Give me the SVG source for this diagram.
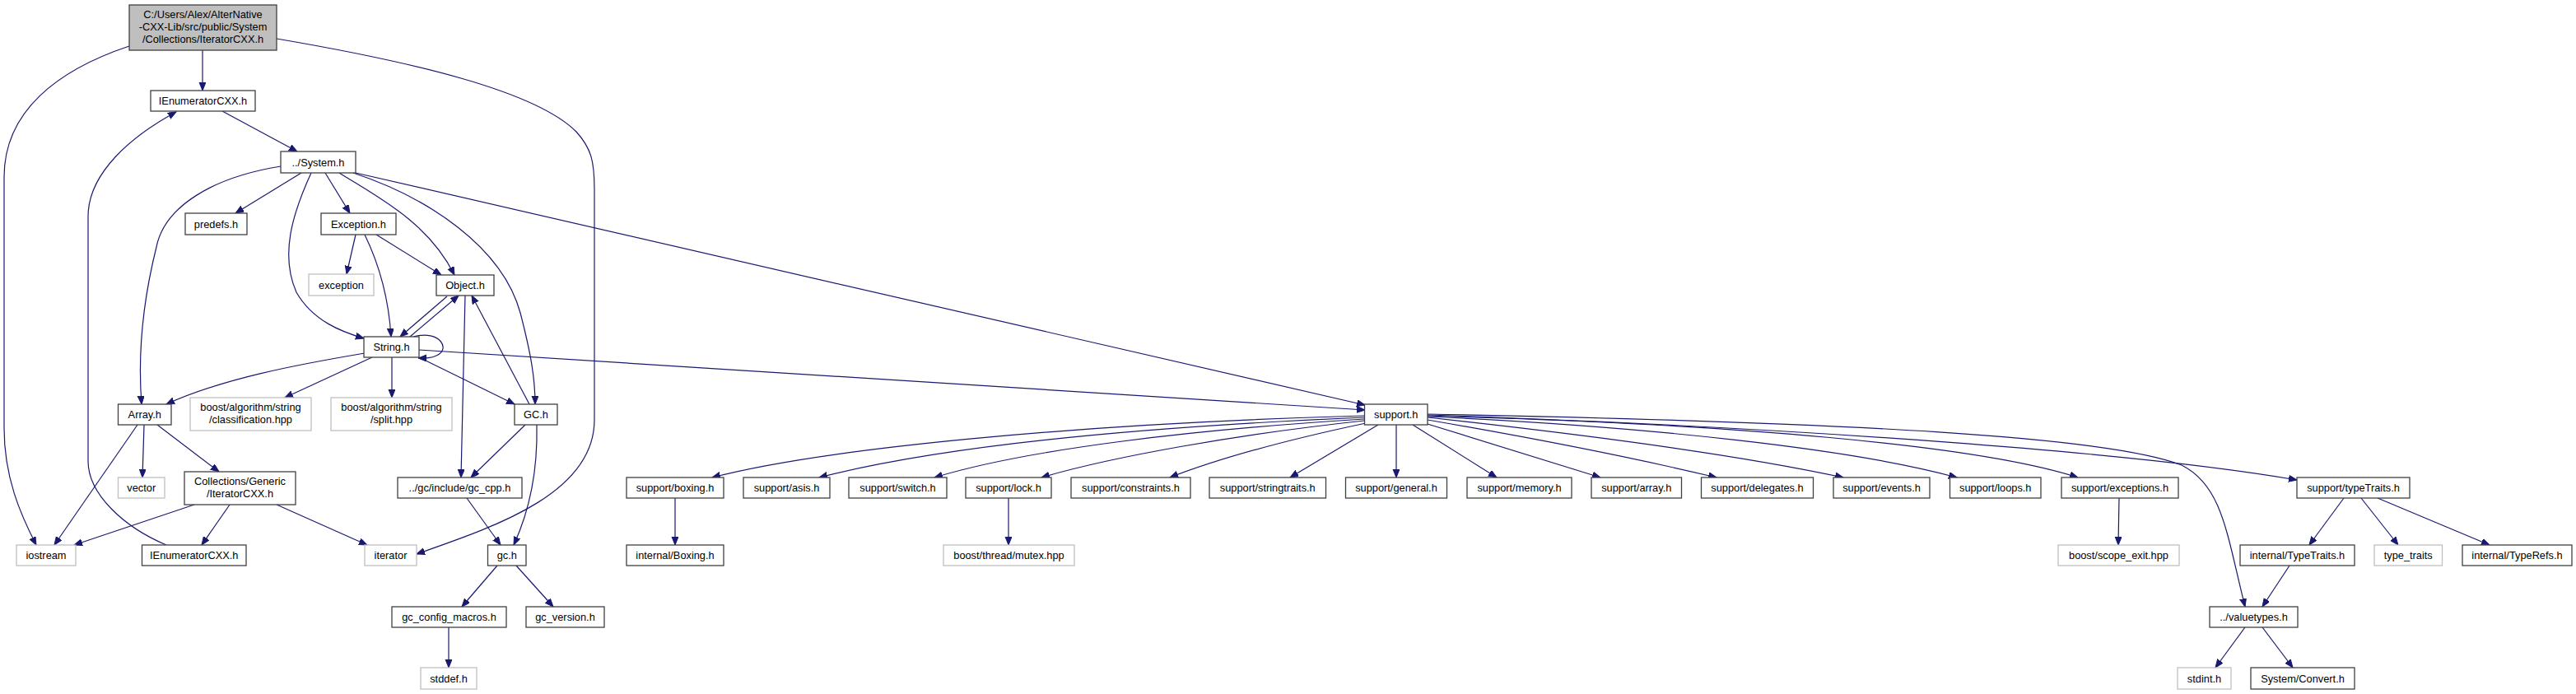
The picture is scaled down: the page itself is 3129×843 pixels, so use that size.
<svg xmlns="http://www.w3.org/2000/svg" width="3129" height="843" viewBox="0 0 3129 843">
<defs>
<style>
.n rect{fill:#ffffff;stroke:#404040;stroke-width:1.3}
.g rect{fill:#ffffff;stroke:#bfbfbf;stroke-width:1.3}
.r rect{fill:#bfbfbf;stroke:#404040;stroke-width:1.3}
text{font-family:"Liberation Sans",Arial,sans-serif;font-size:12.8px;fill:#000000;text-anchor:middle}
#edges path{fill:none;stroke:#191970;stroke-width:1.2;marker-end:url(#a)}
</style>
<marker id="a" markerUnits="userSpaceOnUse" markerWidth="11" markerHeight="9" refX="10" refY="4" orient="auto">
<path d="M0,0 L10,4 L0,8 z" fill="#191970" stroke="#191970" stroke-width="1"/>
</marker>
</defs>
<rect width="3129" height="843" fill="#ffffff"/>
<g id="edges">
<path d="M246,61 L246,110"/>
<path d="M157,56 C70,85 5,135 5,215 L5,520 C5,580 25,625 44,662"/>
<path d="M336,47 C500,75 650,110 700,160 C718,180 722,195 722,230 L722,510 C722,600 600,640 506,673"/>
<path d="M270,135 L361,184"/>
<path d="M366,210 L286,259"/>
<path d="M395,210 L425,259"/>
<path d="M341,202 C260,215 200,250 190,300 C170,380 168,440 172,491"/>
<path d="M378,210 C355,260 340,310 360,355 C380,390 415,403 442,411"/>
<path d="M412,210 C460,240 520,270 552,334"/>
<path d="M429,210 C520,240 610,300 632,380 C645,430 650,460 650,491"/>
<path d="M432,210 L1658,492"/>
<path d="M432,285 L421,333"/>
<path d="M443,285 C460,320 472,360 475,409"/>
<path d="M457,285 L536,334"/>
<path d="M543,360 L486,409"/>
<path d="M498,409 L557,359"/>
<path d="M502,409 C535,400 548,425 530,432 C524,435 518,435 508,435"/>
<path d="M511,435 L625,491"/>
<path d="M443,429 C360,443 270,460 202,491"/>
<path d="M452,434 L346,483"/>
<path d="M476,434 L476,483"/>
<path d="M509,425 L1658,498"/>
<path d="M565,359 L560,580"/>
<path d="M643,491 L573,359"/>
<path d="M638,516 L572,580"/>
<path d="M652,516 C653,560 648,610 624,662"/>
<path d="M167,516 L66,662"/>
<path d="M175,516 L173,580"/>
<path d="M191,516 L266,573"/>
<path d="M236,613 L90,662"/>
<path d="M279,613 L245,662"/>
<path d="M336,613 L446,662"/>
<path d="M202,662 C150,640 107,600 107,560 L107,263 C107,210 160,165 214,136"/>
<path d="M567,605 L608,662"/>
<path d="M604,687 L561,737"/>
<path d="M627,687 L672,737"/>
<path d="M545,762 L545,811"/>
<path d="M820,605 L820,662"/>
<path d="M1657,505 C1300,515 1000,545 865,580"/>
<path d="M1657,507 C1400,518 1150,540 995,580"/>
<path d="M1657,509 C1450,522 1250,545 1135,580"/>
<path d="M1657,511 C1500,528 1350,555 1265,580"/>
<path d="M1659,514 C1560,535 1480,557 1421,580"/>
<path d="M1674,516 L1567,580"/>
<path d="M1696,516 L1696,580"/>
<path d="M1716,516 L1818,580"/>
<path d="M1734,515 L1944,580"/>
<path d="M1734,510 C1850,530 1980,555 2085,580"/>
<path d="M1734,507 C1900,525 2100,550 2239,580"/>
<path d="M1734,506 C2000,518 2250,545 2377,580"/>
<path d="M1734,505 C2100,515 2400,540 2524,580"/>
<path d="M1734,504 C2200,520 2600,550 2790,583"/>
<path d="M1734,503 C2250,513 2560,530 2650,565 C2700,590 2705,650 2727,737"/>
<path d="M1225,605 L1225,662"/>
<path d="M2574,605 L2573,662"/>
<path d="M2847,605 L2805,662"/>
<path d="M2868,605 L2913,662"/>
<path d="M2888,605 L3024,662"/>
<path d="M2781,687 L2748,737"/>
<path d="M2727,762 L2691,811"/>
<path d="M2748,762 L2785,811"/>
</g>
<g id="root" class="r"><rect x="157" y="6" width="179" height="55"/><text x="246.5" y="21.5">C:/Users/Alex/AlterNative</text><text x="246.5" y="36.5">-CXX-Lib/src/public/System</text><text x="246.5" y="51.5">/Collections/IteratorCXX.h</text></g>
<g id="ienum_top" class="n"><rect x="183" y="110" width="127" height="25"/><text x="246.5" y="127">IEnumeratorCXX.h</text></g>
<g id="system" class="n"><rect x="341" y="184" width="91" height="26"/><text x="386.5" y="201.5">../System.h</text></g>
<g id="predefs" class="n"><rect x="225" y="259" width="75" height="26"/><text x="262.5" y="276.5">predefs.h</text></g>
<g id="exception_h" class="n"><rect x="390" y="259" width="91" height="26"/><text x="435.5" y="276.5">Exception.h</text></g>
<g id="exception" class="g"><rect x="375" y="333" width="79" height="26"/><text x="414.5" y="350.5">exception</text></g>
<g id="object" class="n"><rect x="530" y="334" width="70" height="25"/><text x="565" y="351">Object.h</text></g>
<g id="string" class="n"><rect x="442" y="409" width="67" height="25"/><text x="475.5" y="426">String.h</text></g>
<g id="array" class="n"><rect x="143.5" y="491" width="64.5" height="25"/><text x="175.75" y="508">Array.h</text></g>
<g id="boost_class" class="g"><rect x="231" y="483" width="147" height="40"/><text x="304.5" y="499">boost/algorithm/string</text><text x="304.5" y="514">/classification.hpp</text></g>
<g id="boost_split" class="g"><rect x="402" y="483" width="147" height="40"/><text x="475.5" y="499">boost/algorithm/string</text><text x="475.5" y="514">/split.hpp</text></g>
<g id="gc_h_upper" class="n"><rect x="625" y="491" width="52" height="25"/><text x="651" y="508">GC.h</text></g>
<g id="vector" class="g"><rect x="143.5" y="580" width="56.5" height="25"/><text x="171.75" y="597">vector</text></g>
<g id="collections" class="n"><rect x="224" y="573" width="135" height="40"/><text x="291.5" y="589">Collections/Generic</text><text x="291.5" y="604">/IteratorCXX.h</text></g>
<g id="gc_cpp" class="n"><rect x="483" y="580" width="151" height="25"/><text x="558.5" y="597">../gc/include/gc_cpp.h</text></g>
<g id="iostream" class="g"><rect x="20" y="662" width="72" height="25"/><text x="56" y="679">iostream</text></g>
<g id="ienum_bottom" class="n"><rect x="172.5" y="662" width="126.5" height="25"/><text x="235.75" y="679">IEnumeratorCXX.h</text></g>
<g id="iterator" class="g"><rect x="443" y="662" width="63" height="25"/><text x="474.5" y="679">iterator</text></g>
<g id="gc_h" class="n"><rect x="592.5" y="662" width="46.5" height="25"/><text x="615.75" y="679">gc.h</text></g>
<g id="gc_config" class="n"><rect x="476" y="737" width="139" height="25"/><text x="545.5" y="754">gc_config_macros.h</text></g>
<g id="gc_version" class="n"><rect x="639" y="737" width="95" height="25"/><text x="686.5" y="754">gc_version.h</text></g>
<g id="stddef" class="g"><rect x="511" y="811" width="68" height="26"/><text x="545" y="828.5">stddef.h</text></g>
<g id="support" class="n"><rect x="1657.5" y="491" width="76.5" height="25"/><text x="1695.75" y="508">support.h</text></g>
<g id="s_boxing" class="n"><rect x="761" y="580" width="118" height="25"/><text x="820" y="597">support/boxing.h</text></g>
<g id="i_boxing" class="n"><rect x="761" y="662" width="118" height="25"/><text x="820" y="679">internal/Boxing.h</text></g>
<g id="s_asis" class="n"><rect x="903" y="580" width="105" height="25"/><text x="955.5" y="597">support/asis.h</text></g>
<g id="s_switch" class="n"><rect x="1031" y="580" width="119" height="25"/><text x="1090.5" y="597">support/switch.h</text></g>
<g id="s_lock" class="n"><rect x="1173" y="580" width="104" height="25"/><text x="1225" y="597">support/lock.h</text></g>
<g id="s_constraints" class="n"><rect x="1301" y="580" width="145" height="25"/><text x="1373.5" y="597">support/constraints.h</text></g>
<g id="s_stringtraits" class="n"><rect x="1469" y="580" width="141.5" height="25"/><text x="1539.75" y="597">support/stringtraits.h</text></g>
<g id="s_general" class="n"><rect x="1634.5" y="580" width="123" height="25"/><text x="1696" y="597">support/general.h</text></g>
<g id="s_memory" class="n"><rect x="1782" y="580" width="127" height="25"/><text x="1845.5" y="597">support/memory.h</text></g>
<g id="s_array" class="n"><rect x="1933" y="580" width="109.5" height="25"/><text x="1987.75" y="597">support/array.h</text></g>
<g id="s_delegates" class="n"><rect x="2066.5" y="580" width="136" height="25"/><text x="2134.5" y="597">support/delegates.h</text></g>
<g id="s_events" class="n"><rect x="2227" y="580" width="117" height="25"/><text x="2285.5" y="597">support/events.h</text></g>
<g id="s_loops" class="n"><rect x="2368.5" y="580" width="110.5" height="25"/><text x="2423.75" y="597">support/loops.h</text></g>
<g id="s_exceptions" class="n"><rect x="2504" y="580" width="142" height="25"/><text x="2575" y="597">support/exceptions.h</text></g>
<g id="s_typetraits" class="n"><rect x="2790" y="580" width="137" height="25"/><text x="2858.5" y="597">support/typeTraits.h</text></g>
<g id="mutex" class="g"><rect x="1146" y="662" width="159" height="25"/><text x="1225.5" y="679">boost/thread/mutex.hpp</text></g>
<g id="scope_exit" class="g"><rect x="2500" y="662" width="147" height="25"/><text x="2573.5" y="679">boost/scope_exit.hpp</text></g>
<g id="i_typetraits" class="n"><rect x="2721" y="662" width="139" height="25"/><text x="2790.5" y="679">internal/TypeTraits.h</text></g>
<g id="type_traits" class="g"><rect x="2884" y="662" width="82.5" height="25"/><text x="2925.25" y="679">type_traits</text></g>
<g id="i_typerefs" class="n"><rect x="2991" y="662" width="133" height="25"/><text x="3057.5" y="679">internal/TypeRefs.h</text></g>
<g id="valuetypes" class="n"><rect x="2684" y="737" width="107" height="25"/><text x="2737.5" y="754">../valuetypes.h</text></g>
<g id="stdint" class="g"><rect x="2645" y="811" width="65" height="26"/><text x="2677.5" y="828.5">stdint.h</text></g>
<g id="convert" class="n"><rect x="2734" y="811" width="126" height="26"/><text x="2797" y="828.5">System/Convert.h</text></g>
</svg>
